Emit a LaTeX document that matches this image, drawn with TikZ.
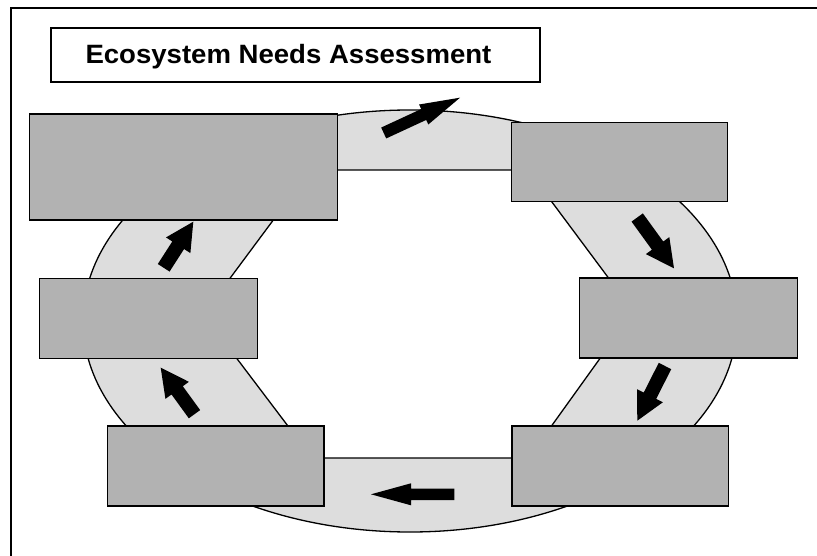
\documentclass[tikz,border=0pt]{standalone}
\usepackage{fontspec}
\setmainfont{Liberation Sans}
\usetikzlibrary{calc}
\definecolor{boxgray}{RGB}{178,178,178}
\definecolor{ringgray}{RGB}{221,221,221}
\tikzset{
  graybox/.style={draw=black, line width=1.5pt, fill=boxgray, inner sep=0pt, outer sep=0pt},
  titlebox/.style={draw=black, line width=1.5pt, fill=white, inner sep=0pt, outer sep=0pt},
  ring/.style={draw=black, line width=1.3pt, fill=ringgray, even odd rule},
  frameline/.style={draw=black, line width=2pt},
  blockarrow/.style={fill=black}
}
\newcommand\blockarr[5]{%
  \coordinate (#1-b) at ($(#2)!#5!(#1)$);
  \path[blockarrow] ($(#1)!#3!90:(#2)$) -- ($(#1-b)!#3!90:(#2)$) -- ($(#1-b)!#4!90:(#2)$) -- (#2)
    -- ($(#1-b)!#4!-90:(#2)$) -- ($(#1-b)!#3!-90:(#2)$) -- ($(#1)!#3!-90:(#2)$) -- cycle;}
\begin{document}
\begin{tikzpicture}[x=1pt, y=-1pt]
\useasboundingbox (0,0) rectangle (817,556);
% frame
\draw[frameline] (11,556) -- (11,8) -- (817,8);
% title
\node[titlebox, minimum width=489pt, minimum height=54pt] (titlebox) at (295.5,55) {};
\node[anchor=base, inner sep=0pt] (titletext) at (288.5,63.3)
  {\addfontfeature{FakeStretch=1.04}\fontsize{26.5pt}{30pt}\selectfont\bfseries Ecosystem Needs Assessment};
% ring
\path[ring] (410,321) ellipse [x radius=327, y radius=211]
  (300,170) -- (530,170) -- (551.7,201.7) -- (608.3,277.7) -- (620,300) -- (600.3,358)
  -- (551.7,425.7) -- (530,440) -- (530,458) -- (300,458) -- (287.7,425.7) -- (236.7,358.3)
  -- (220,320) -- (230,278.3) -- (273.3,220) -- (300,190) -- cycle;
% boxes
\node[graybox, minimum width=308pt, minimum height=106pt] (tl) at (183.4,167.2) {};
\node[graybox, minimum width=216pt, minimum height=79.4pt] (tr) at (619.7,162) {};
\node[graybox, minimum width=218pt, minimum height=80pt] (ml) at (148.6,318.3) {};
\node[graybox, minimum width=218pt, minimum height=80pt] (mr) at (688.3,318.2) {};
\node[graybox, minimum width=216.5pt, minimum height=80.3pt] (bl) at (215.7,465.9) {};
\node[graybox, minimum width=216.5pt, minimum height=80.3pt] (br) at (620,465.9) {};
% arrows
\coordinate (a1t) at (383.7,133);   \coordinate (a1h) at (460,97.7);
\coordinate (a2t) at (637.2,217.5); \coordinate (a2h) at (674,268.3);
\coordinate (a3t) at (665,366);     \coordinate (a3h) at (637.3,420.7);
\coordinate (a4t) at (454.3,494.3); \coordinate (a4h) at (371,494.3);
\coordinate (a5t) at (194.5,414.2); \coordinate (a5h) at (160.7,367.7);
\coordinate (a6t) at (163.7,267.8); \coordinate (a6h) at (193.3,221.7);
\blockarr{a1t}{a1h}{6pt}{11pt}{40pt}
\blockarr{a2t}{a2h}{7pt}{14.5pt}{28pt}
\blockarr{a3t}{a3h}{7pt}{14.5pt}{28pt}
\blockarr{a4t}{a4h}{5.8pt}{11pt}{40pt}
\blockarr{a5t}{a5h}{7pt}{14.5pt}{28pt}
\blockarr{a6t}{a6h}{7pt}{14.5pt}{28pt}
\end{tikzpicture}
\end{document}
